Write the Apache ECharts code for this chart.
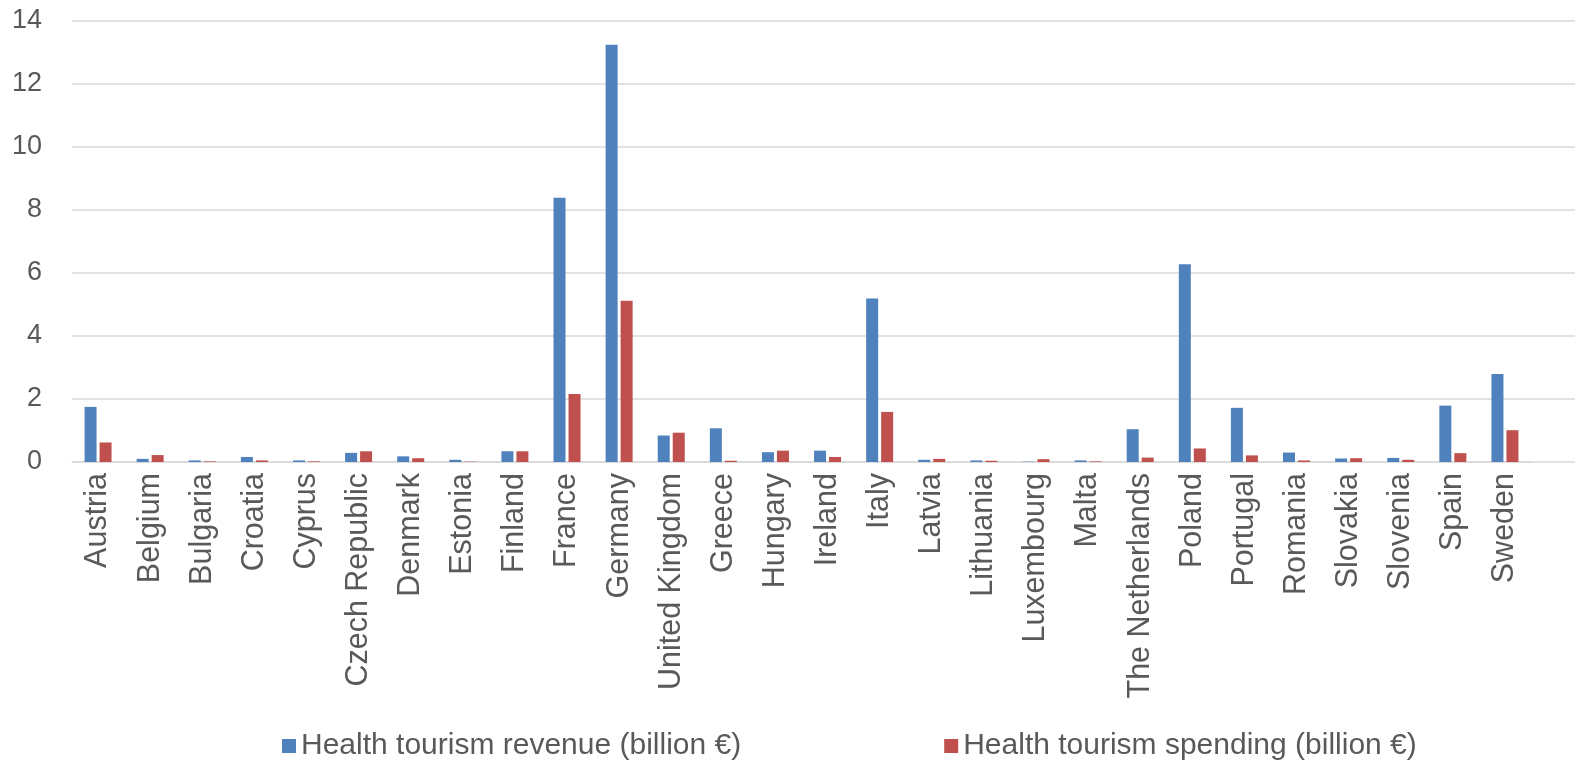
<!DOCTYPE html>
<html>
<head>
<meta charset="utf-8">
<script src="https://cdn.jsdelivr.net/npm/echarts@6/dist/echarts.min.js"></script>
<style>html,body{margin:0;padding:0;background:#fff}#c{width:1581px;height:760px}</style>
</head>
<body>
<div id="c"></div>
<script>
const categories = ["Austria","Belgium","Bulgaria","Croatia","Cyprus","Czech Republic","Denmark","Estonia","Finland","France","Germany","United Kingdom","Greece","Hungary","Ireland","Italy","Latvia","Lithuania","Luxembourg","Malta","The Netherlands","Poland","Portugal","Romania","Slovakia","Slovenia","Spain","Sweden"];
const revenue = [1.75,0.10,0.05,0.16,0.05,0.29,0.18,0.07,0.34,8.39,13.25,0.84,1.07,0.31,0.36,5.19,0.07,0.05,0.01,0.05,1.04,6.28,1.72,0.30,0.11,0.13,1.79,2.79];
const spending = [0.62,0.22,0.02,0.05,0.02,0.34,0.12,0.01,0.34,2.16,5.12,0.93,0.04,0.36,0.16,1.59,0.10,0.04,0.09,0.02,0.14,0.43,0.21,0.05,0.12,0.07,0.28,1.01];
const yTicks = [0,2,4,6,8,10,12,14];
const seriesNames = ["Health tourism revenue (billion €)","Health tourism spending (billion €)"];
const colors = ["#4F81BD","#C0504D"];

const font = "'Liberation Sans',Arial,sans-serif";
const chart = echarts.init(document.getElementById('c'), null, {renderer:'canvas'});
chart.setOption({
  animation:false,
  backgroundColor:'#fff',
  grid:[
    {left:72, top:21, width:1459, height:441, containLabel:false},
    {left:72, top:21, right:6, height:441, containLabel:false}
  ],
  xAxis:[
    {type:'category', gridIndex:0, data:categories,
     axisLine:{show:true, lineStyle:{color:'#D9D9D9', width:1.5}},
     axisTick:{show:false},
     axisLabel:{rotate:90, interval:0, margin:11, fontSize:30.5, color:'#595959', fontFamily:font}},
    {type:'category', gridIndex:1, data:[], show:false}
  ],
  yAxis:[
    {type:'value', gridIndex:0, min:yTicks[0], max:yTicks[yTicks.length-1], interval:2,
     axisLine:{show:false}, axisTick:{show:false}, splitLine:{show:false},
     axisLabel:{show:false}},
    {type:'value', gridIndex:1, min:yTicks[0], max:yTicks[yTicks.length-1], interval:2,
     axisLine:{show:false}, axisTick:{show:false},
     splitLine:{show:true, lineStyle:{color:'#D9D9D9', width:1.5}},
     axisLabel:{show:true, margin:30, fontSize:27, color:'#595959', fontFamily:font}}
  ],
  legend:{
    left:277, top:726, itemWidth:14, itemHeight:14, itemGap:203, icon:'rect',
    textStyle:{fontSize:30, color:'#595959', fontFamily:font},
    data:seriesNames
  },
  series:[
    {name:seriesNames[0], type:'bar', xAxisIndex:0, yAxisIndex:0, data:revenue, barWidth:12, barGap:'25%',
     itemStyle:{color:colors[0]}},
    {name:seriesNames[1], type:'bar', xAxisIndex:0, yAxisIndex:0, data:spending, barWidth:12, barGap:'25%',
     itemStyle:{color:colors[1]}}
  ]
});
</script>
</body>
</html>
